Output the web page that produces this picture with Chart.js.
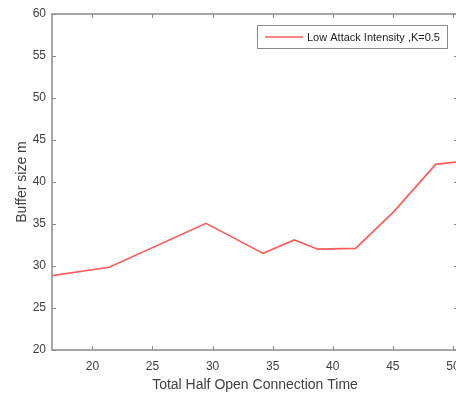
<!DOCTYPE html>
<html>
<head>
<meta charset="utf-8">
<script src="https://cdn.jsdelivr.net/npm/chart.js@4/dist/chart.umd.min.js"></script>
<style>
  html, body { margin: 0; padding: 0; background: #fff; overflow: hidden; }
  #wrap { width: 456px; height: 395px; overflow: hidden; }
</style>
</head>
<body>
<div id="wrap"><canvas id="c" width="460" height="395"></canvas></div>
<script>
// Half-open connection time (x) against buffer size m (y)
const connectionTime = [16.64, 21.4, 29.45, 34.2, 36.8, 38.75, 41.9, 45.1, 48.56, 50.4];
const bufferSize     = [28.85, 29.85, 35.08, 31.5, 33.1, 32.0, 32.1, 36.5, 42.1, 42.4];
const xTicks = [20, 25, 30, 35, 40, 45, 50];
const yTicks = [20, 25, 30, 35, 40, 45, 50, 55, 60];
const seriesLabel = 'Low Attack Intensity ,K=0.5';

const FONT = '"Liberation Sans", Arial, sans-serif';
const AXIS_COLOR = '#8a8a8a';
const TEXT_COLOR = '#404040';

// Box outline with inward ticks on all four sides
const boxTicks = {
  id: 'boxTicks',
  afterDraw(chart) {
    const { ctx, chartArea: a, scales: { x, y } } = chart;
    ctx.save();
    ctx.strokeStyle = AXIS_COLOR;
    ctx.lineWidth = 1.5;
    ctx.strokeRect(a.left, a.top, a.right - a.left, a.bottom - a.top);
    ctx.lineWidth = 1;
    const len = 4;
    ctx.beginPath();
    xTicks.forEach(v => {
      const px = Math.round(x.getPixelForValue(v)) + 0.5;
      ctx.moveTo(px, a.bottom); ctx.lineTo(px, a.bottom - len);
      ctx.moveTo(px, a.top); ctx.lineTo(px, a.top + len);
    });
    yTicks.forEach(v => {
      const py = Math.round(y.getPixelForValue(v)) + 0.5;
      ctx.moveTo(a.left, py); ctx.lineTo(a.left + len, py);
      ctx.moveTo(a.right, py); ctx.lineTo(a.right - len, py);
    });
    ctx.stroke();
    ctx.restore();
  }
};

// Boxed legend in the upper right of the plot
const boxLegend = {
  id: 'boxLegend',
  afterDraw(chart) {
    const { ctx } = chart;
    const ds = chart.data.datasets[0];
    const bx = 257.5, by = 25.5, bw = 190, bh = 23;
    ctx.save();
    ctx.fillStyle = '#fff';
    ctx.fillRect(bx, by, bw, bh);
    ctx.strokeStyle = '#8a8a8a';
    ctx.lineWidth = 1;
    ctx.strokeRect(bx, by, bw, bh);
    ctx.strokeStyle = ds.borderColor;
    ctx.lineWidth = 1.5;
    ctx.beginPath();
    ctx.moveTo(265, by + bh / 2);
    ctx.lineTo(303, by + bh / 2);
    ctx.stroke();
    ctx.fillStyle = '#222';
    ctx.font = '11px ' + FONT;
    ctx.textBaseline = 'middle';
    ctx.fillText(ds.label, 307, by + bh / 2 + 0.5);
    ctx.restore();
  }
};

new Chart(document.getElementById('c'), {
  type: 'line',
  data: {
    datasets: [{
      label: seriesLabel,
      data: connectionTime.map((t, i) => ({ x: t, y: bufferSize[i] })),
      borderColor: '#ff5c5c',
      borderWidth: 1.7,
      pointRadius: 0,
      tension: 0,
      fill: false
    }]
  },
  options: {
    responsive: false,
    animation: false,
    layout: { padding: { top: 14, right: 2, left: 14, bottom: 0 } },
    plugins: { legend: { display: false }, tooltip: { enabled: false } },
    scales: {
      x: {
        type: 'linear',
        min: 16.64,
        max: 50.42,
        afterBuildTicks(s) { s.ticks = xTicks.map(v => ({ value: v })); },
        afterFit(s) { s.height = 45; s.paddingLeft = 0; s.paddingRight = 0; },
        grid: { display: false, drawTicks: false },
        border: { display: false },
        ticks: { color: TEXT_COLOR, font: { family: FONT, size: 12 }, padding: 9, maxRotation: 0 },
        title: { display: true, text: 'Total Half Open Connection Time', color: TEXT_COLOR,
                 font: { family: FONT, size: 14 }, padding: { top: 0, bottom: 1 } }
      },
      y: {
        type: 'linear',
        min: 20,
        max: 60,
        afterBuildTicks(s) { s.ticks = yTicks.map(v => ({ value: v })); },
        afterFit(s) { s.width = 38; s.paddingTop = 0; s.paddingBottom = 0; },
        grid: { display: false, drawTicks: false },
        border: { display: false },
        ticks: { color: TEXT_COLOR, font: { family: FONT, size: 12 }, padding: 6 },
        title: { display: true, text: 'Buffer size m', color: TEXT_COLOR,
                 font: { family: FONT, size: 14 }, padding: { top: 0, bottom: 4 } }
      }
    }
  },
  plugins: [boxTicks, boxLegend]
});
</script>
</body>
</html>
